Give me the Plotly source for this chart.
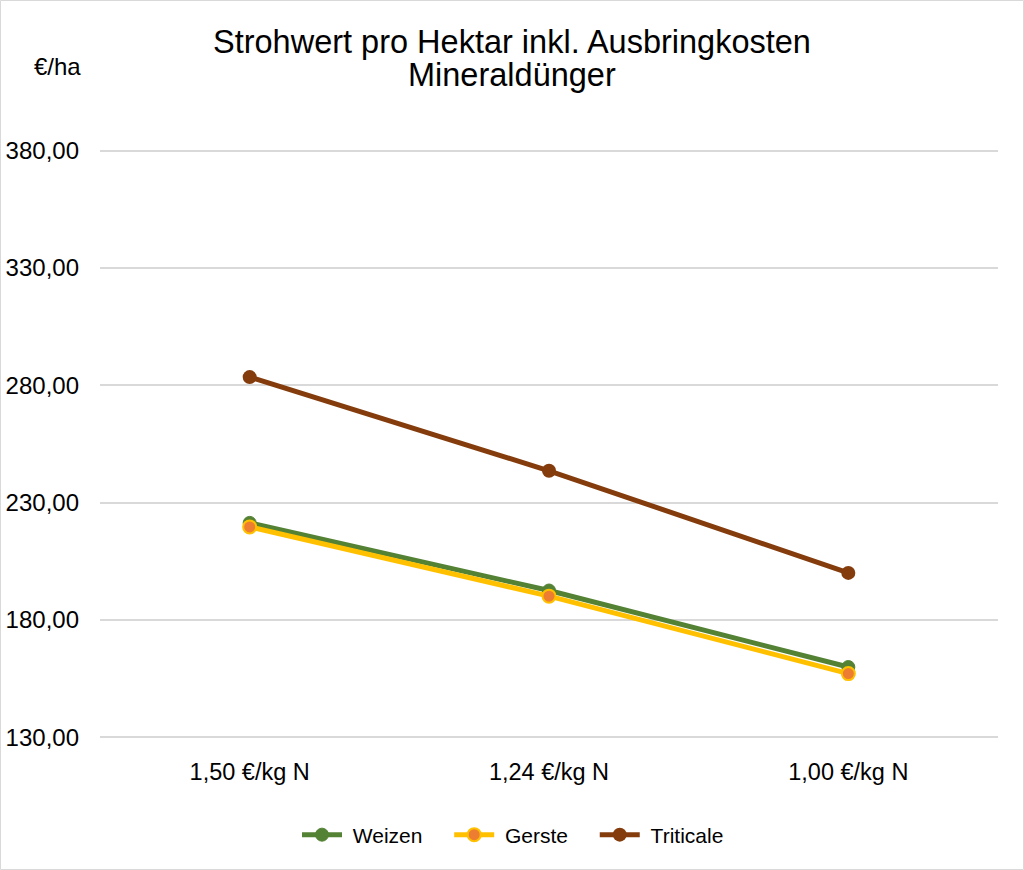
import plotly.graph_objects as go

categories = ["1,50 €/kg N", "1,24 €/kg N", "1,00 €/kg N"]
weizen = [221.4, 192.6, 160.0]
gerste = [219.7, 190.2, 157.2]
triticale = [283.5, 243.6, 200.1]
y_ticks = [130, 180, 230, 280, 330, 380]
y_tick_labels = ["130,00", "180,00", "230,00", "280,00", "330,00", "380,00"]

FONT = "Liberation Sans, Arial, sans-serif"
W, H = 1024, 870
L, R, T, B = 100, 26, 149, 131
PRE = "\u00a0"
GAP = "\u00a0\u00a0\u00a0\u2009"

fig = go.Figure()
fig.add_trace(go.Scatter(x=categories, y=weizen, name=PRE + "Weizen" + GAP, mode="lines+markers",
                         line=dict(color="#548235", width=5),
                         marker=dict(color="#548235", size=13, line=dict(color="#548235", width=1))))
fig.add_trace(go.Scatter(x=categories, y=gerste, name=PRE + "Gerste" + GAP, mode="lines+markers",
                         line=dict(color="#FFC000", width=5),
                         marker=dict(color="#ED7D31", size=13, line=dict(color="#FFC000", width=2))))
fig.add_trace(go.Scatter(x=categories, y=triticale, name=PRE + "Triticale", mode="lines+markers",
                         line=dict(color="#843C0C", width=5),
                         marker=dict(color="#843C0C", size=14)))

pw = W - L - R
ph = H - T - B
fig.update_layout(
    width=W, height=H,
    margin=dict(l=L, r=R, t=T, b=B, autoexpand=False),
    paper_bgcolor="white", plot_bgcolor="white",
    font=dict(family=FONT, color="#000000", size=23),
    xaxis=dict(type="category", range=[-0.5, 2.5], showgrid=False, showline=False,
               zeroline=False, ticks="", tickfont=dict(size=23.5), ticklabelstandoff=16),
    yaxis=dict(range=[129.35, 380.65], tickvals=y_ticks, ticktext=y_tick_labels,
               showgrid=True, gridcolor="#D9D9D9", gridwidth=1.5, zeroline=False,
               showline=False, ticks="", tickfont=dict(size=24), ticklabelstandoff=20),
    legend=dict(orientation="h", x=(297 - L) / pw, xanchor="left", y=-(835 - (T + ph)) / ph,
                yanchor="middle", font=dict(size=21), itemwidth=40, traceorder="normal"),
    showlegend=True,
    annotations=[
        dict(text="Strohwert pro Hektar inkl. Ausbringkosten", xref="paper", yref="paper",
             x=(512 - L) / pw, y=1 + (T - 42) / ph, xanchor="center", yanchor="middle",
             showarrow=False, font=dict(size=32.5, family=FONT)),
        dict(text="Mineraldünger", xref="paper", yref="paper",
             x=(512 - L) / pw, y=1 + (T - 75) / ph, xanchor="center", yanchor="middle",
             showarrow=False, font=dict(size=32.5, family=FONT)),
        dict(text="€/ha", xref="paper", yref="paper",
             x=(57 - L) / pw, y=1 + (T - 67) / ph, xanchor="center", yanchor="middle",
             showarrow=False, font=dict(size=24, family=FONT)),
    ],
    shapes=[dict(type="rect", xref="paper", yref="paper",
                 x0=(0.5 - L) / pw, x1=(W - 0.5 - L) / pw,
                 y0=-(B - 0.5) / ph, y1=1 + (T - 0.5) / ph,
                 line=dict(color="#D9D9D9", width=1), layer="below")],
)

fig.write_html("out.html")
